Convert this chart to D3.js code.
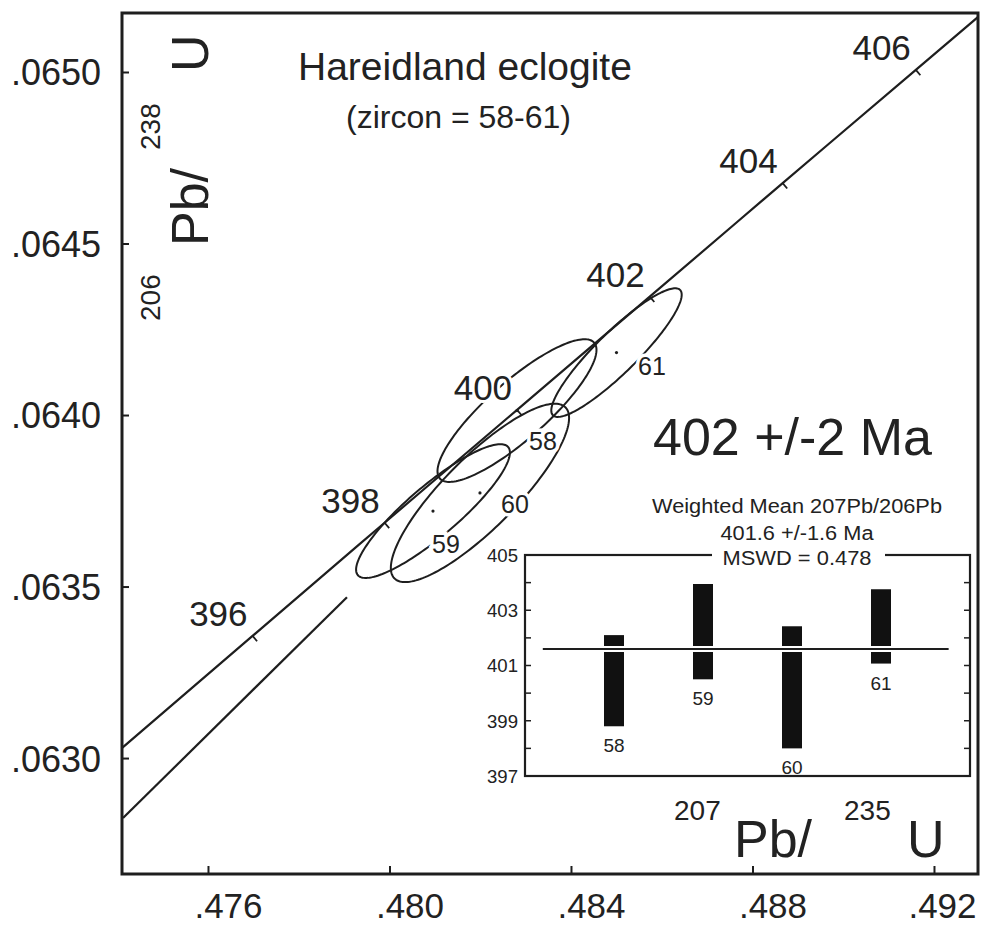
<!DOCTYPE html>
<html><head><meta charset="utf-8">
<script src="https://cdn.jsdelivr.net/npm/d3@7"></script>
<style>
body{margin:0;background:#fff}
svg{display:block}
text{font-family:"Liberation Sans",Arial,Helvetica,sans-serif;fill:#222}
</style>
</head><body>
<svg id="c" width="986" height="926"></svg>
<script>
// ---------- data ----------
const xTicks = [0.476, 0.480, 0.484, 0.488, 0.492];
const xTickLabels = [".476", ".480", ".484", ".488", ".492"];
const yTicks = [0.0630, 0.0635, 0.0640, 0.0645, 0.0650];
const yTickLabels = [".0630", ".0635", ".0640", ".0645", ".0650"];

// concordia points (age Ma, 207Pb/235U, 206Pb/238U)
const concAges = [392, 394, 396, 398, 400, 402, 404, 406, 408];
const concX = [0.471175, 0.474076, 0.476982, 0.479893, 0.482812, 0.485736, 0.488665, 0.491600, 0.494541];
const concY = [0.062696, 0.063026, 0.063356, 0.063686, 0.064015, 0.064345, 0.064676, 0.065006, 0.065337];
const ageLabels = [396, 398, 400, 402, 404, 406];

// second (lower) line
const lowerLineX = [0.474127, 0.479063];
const lowerLineY = [0.062825, 0.063469];

// zircon analyses (2 sigma error ellipses)
const spots = ["58", "59", "60", "61"];
const spotX = [0.48281, 0.480959, 0.481994, 0.485003];
const spotSX = [0.001752, 0.001695, 0.001964, 0.001437];
const spotY = [0.064013, 0.06372, 0.063773, 0.064182];
const spotSY = [0.000208, 0.000195, 0.00026, 0.0001875];
const spotRho = [0.85, 0.875, 0.84, 0.9];

// inset: weighted mean 207Pb/206Pb ages
const insetSpots = ["58", "59", "60", "61"];
const barTop = [402.1, 403.95, 402.42, 403.76];
const barBottom = [398.8, 400.5, 398.0, 401.07];
const weightedMean = 401.6;
const insetTicks = [397, 399, 401, 403, 405];
const insetMinor = [398, 400, 402, 404];

// ---------- drawing ----------
const svg = d3.select("#c");
const ink = "#1e1e1e";
const L = 122, R = 978, T = 13, B = 874;
const x = d3.scaleLinear().domain([0.474105, 0.49297]).range([L, R]);
const y = d3.scaleLinear().domain([0.062662, 0.065172]).range([B, T]);

svg.append("defs").append("clipPath").attr("id", "plot")
  .append("rect").attr("x", L).attr("y", T).attr("width", R - L).attr("height", B - T);

const g = svg.append("g").attr("clip-path", "url(#plot)");

// concordia
const concPts = concX.map((v, i) => [x(v), y(concY[i])]);
g.append("path").attr("d", d3.line().curve(d3.curveCatmullRom)(concPts))
  .attr("fill", "none").attr("stroke", ink).attr("stroke-width", 2.2);

// lower line
g.append("path").attr("d", d3.line()(lowerLineX.map((v, i) => [x(v), y(lowerLineY[i])])))
  .attr("fill", "none").attr("stroke", ink).attr("stroke-width", 2.2);

// ellipses
spots.forEach((s, i) => {
  const r = spotRho[i], q = Math.sqrt(1 - r * r);
  const pts = d3.range(0, 360, 2).map(a => {
    const t = a * Math.PI / 180;
    return [x(spotX[i] + spotSX[i] * Math.cos(t)),
            y(spotY[i] + spotSY[i] * (r * Math.cos(t) + q * Math.sin(t)))];
  });
  g.append("path").attr("d", d3.line().curve(d3.curveLinearClosed)(pts))
    .attr("fill", "none").attr("stroke", ink).attr("stroke-width", 2);
  g.append("circle").attr("cx", x(spotX[i])).attr("cy", y(spotY[i])).attr("r", 1.6).attr("fill", ink);
});

// age ticks on concordia
ageLabels.forEach(a => {
  const i = concAges.indexOf(a);
  const px = x(concX[i]), py = y(concY[i]);
  const dx = x(concX[i + 1]) - x(concX[i - 1]), dy = y(concY[i + 1]) - y(concY[i - 1]);
  const len = Math.hypot(dx, dy);
  const nx = -dy / len, ny = dx / len;
  svg.append("line").attr("x1", px).attr("y1", py).attr("x2", px + nx * 7).attr("y2", py + ny * 7)
    .attr("stroke", ink).attr("stroke-width", 1.8);
});

// spot labels (with white halo making gaps in ellipse outlines)
const spotLabelPos = {"58": [543, 450], "59": [446, 553], "60": [515, 513], "61": [652, 375]};
spots.forEach(s => {
  svg.append("text").attr("x", spotLabelPos[s][0]).attr("y", spotLabelPos[s][1])
    .attr("text-anchor", "middle").attr("font-size", 25)
    .attr("stroke", "#fff").attr("stroke-width", 7).attr("paint-order", "stroke")
    .text(s);
});

// age labels
ageLabels.forEach(a => {
  const i = concAges.indexOf(a);
  svg.append("text").attr("x", x(concX[i]) - 5).attr("y", y(concY[i]) - 10)
    .attr("text-anchor", "end").attr("font-size", 35)
    .attr("stroke", "#fff").attr("stroke-width", 6).attr("paint-order", "stroke")
    .text(a);
});

// axes
const xAxis = svg.append("g").attr("transform", `translate(0,${B})`)
  .call(d3.axisBottom(x).tickValues(xTicks).tickSize(-8).tickFormat((d, i) => xTickLabels[i]));
xAxis.select(".domain").remove();
xAxis.selectAll("line").attr("stroke", ink).attr("stroke-width", 2);
xAxis.selectAll("text").attr("font-size", 35).attr("y", 44).attr("dy", 0)
  .attr("dx", (d, i) => i === xTicks.length - 1 ? 8 : 20)
  .attr("font-family", null).attr("fill", "#222");

const yAxis = svg.append("g").attr("transform", `translate(${L},0)`)
  .call(d3.axisLeft(y).tickValues(yTicks).tickSize(-7).tickFormat((d, i) => yTickLabels[i]));
yAxis.select(".domain").remove();
yAxis.selectAll("line").attr("stroke", ink).attr("stroke-width", 2);
yAxis.selectAll("text").attr("font-size", 36).attr("x", -21).attr("dy", "0.36em")
  .attr("font-family", null).attr("fill", "#222");

// frame
svg.append("rect").attr("x", L).attr("y", T).attr("width", R - L).attr("height", B - T)
  .attr("fill", "none").attr("stroke", ink).attr("stroke-width", 3);

// titles
svg.append("text").attr("x", 298).attr("y", 80).attr("font-size", 39).text("Hareidland eclogite");
svg.append("text").attr("x", 346).attr("y", 128).attr("font-size", 32).text("(zircon = 58-61)");
svg.append("text").attr("x", 653).attr("y", 455).attr("font-size", 52).text("402 +/-2 Ma");

// y axis title (rotated)
function rot(txt, xb, ys, fs) {
  svg.append("text").attr("transform", `translate(${xb},${ys}) rotate(-90)`)
    .attr("font-size", fs).text(txt);
}
rot("206", 160, 321, 28);
rot("Pb/", 208, 246, 52);
rot("238", 160, 150, 28);
rot("U", 208, 72, 52);

// x axis title
svg.append("text").attr("x", 674).attr("y", 820).attr("font-size", 28).text("207");
svg.append("text").attr("x", 734).attr("y", 857).attr("font-size", 52).text("Pb/");
svg.append("text").attr("x", 844).attr("y", 820).attr("font-size", 28).text("235");
svg.append("text").attr("x", 907).attr("y", 857).attr("font-size", 52).text("U");

// ---------- inset ----------
const ix = d3.scaleLinear().domain([0, 5]).range([525, 970]);
const iy = d3.scaleLinear().domain([397, 405]).range([776, 555]);
const ins = svg.append("g");
ins.append("rect").attr("x", 525).attr("y", 555).attr("width", 445).attr("height", 221)
  .attr("fill", "#fff").attr("stroke", ink).attr("stroke-width", 2.2);

// ticks left and right
insetTicks.concat(insetMinor).forEach(v => {
  ins.append("line").attr("x1", 525).attr("x2", 531).attr("y1", iy(v)).attr("y2", iy(v)).attr("stroke", ink).attr("stroke-width", 1.5);
  ins.append("line").attr("x1", 964).attr("x2", 970).attr("y1", iy(v)).attr("y2", iy(v)).attr("stroke", ink).attr("stroke-width", 1.5);
});
insetTicks.forEach(v => {
  ins.append("text").attr("x", 518).attr("y", iy(v)).attr("dy", "0.36em")
    .attr("text-anchor", "end").attr("font-size", 19).attr("textLength", 31).attr("lengthAdjust", "spacingAndGlyphs").text(v);
});

// bars
insetSpots.forEach((s, i) => {
  const cx = ix(i + 1);
  ins.append("rect").attr("x", cx - 10).attr("width", 20)
    .attr("y", iy(barTop[i])).attr("height", iy(barBottom[i]) - iy(barTop[i]))
    .attr("fill", "#111");
  ins.append("text").attr("x", cx).attr("y", iy(barBottom[i]) + 26)
    .attr("text-anchor", "middle").attr("font-size", 19).text(s);
});

// weighted mean line
ins.append("line").attr("x1", ix(0.2)).attr("x2", ix(4.76)).attr("y1", iy(weightedMean)).attr("y2", iy(weightedMean))
  .attr("stroke", "#fff").attr("stroke-width", 6);
ins.append("line").attr("x1", ix(0.2)).attr("x2", ix(4.76)).attr("y1", iy(weightedMean)).attr("y2", iy(weightedMean))
  .attr("stroke", ink).attr("stroke-width", 2);

// inset title
ins.append("rect").attr("x", 712).attr("y", 548).attr("width", 173).attr("height", 14).attr("fill", "#fff");
ins.append("text").attr("x", 797).attr("y", 513).attr("text-anchor", "middle").attr("font-size", 20)
  .attr("textLength", 290).attr("lengthAdjust", "spacingAndGlyphs").text("Weighted Mean 207Pb/206Pb");
ins.append("text").attr("x", 797).attr("y", 540).attr("text-anchor", "middle").attr("font-size", 20)
  .attr("textLength", 153).attr("lengthAdjust", "spacingAndGlyphs").text("401.6 +/-1.6 Ma");
ins.append("text").attr("x", 797).attr("y", 565).attr("text-anchor", "middle").attr("font-size", 20)
  .attr("textLength", 149).attr("lengthAdjust", "spacingAndGlyphs").text("MSWD = 0.478");
</script>
</body></html>
